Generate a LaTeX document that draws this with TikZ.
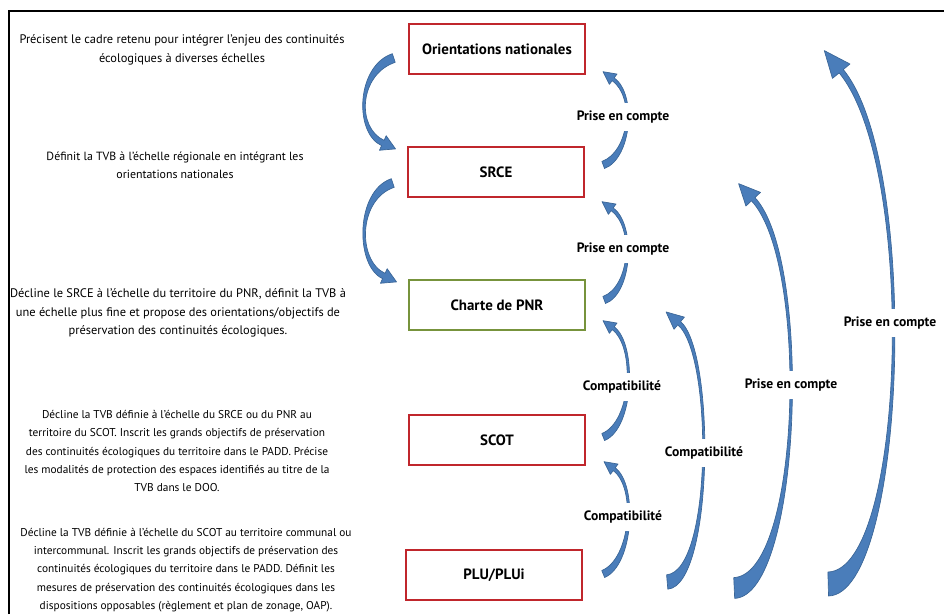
\documentclass[tikz,border=0pt]{standalone}
\usepackage{fontspec}
\setmainfont{PT Sans}
\usetikzlibrary{calc}
\definecolor{boxred}{HTML}{C0262C}
\definecolor{boxgreen}{HTML}{77933C}
\definecolor{arrowfill}{HTML}{4A7DBA}
\definecolor{arrowline}{HTML}{3A6596}

% bent arrow: start, control 1, control 2, neck, tail half width, neck half width, head half width, head length
\newcommand{\bentarrow}[8]{%
	\coordinate (p0) at #1;
	\coordinate (c1) at #2;
	\coordinate (c2) at #3;
	\coordinate (e) at #4;
	\coordinate (pa) at ($(p0)!#5!90:(c1)$);
	\coordinate (pb) at ($(p0)!#5!-90:(c1)$);
	\coordinate (ea) at ($(e)!#6!-90:(c2)$);
	\coordinate (eb) at ($(e)!#6!90:(c2)$);
	\fill[arrowfill, draw=arrowline, line width=0.5pt, line join=round]
	(pa) .. controls ($(c1)+(pa)-(p0)$) and ($(c2)+(ea)-(e)$) .. (ea)
	-- ($(e)!#7!-90:(c2)$) -- ($(e)!#8!180:(c2)$) -- ($(e)!#7!90:(c2)$)
	-- (eb) .. controls ($(c2)+(eb)-(e)$) and ($(c1)+(pb)-(p0)$) .. (pb) -- cycle;
}

\tikzset{
	plan/.style={draw, line width=1.8pt, minimum width=132pt, minimum height=37.5pt,
		font=\bfseries\fontsize{11.2}{13}\selectfont},
	relbl/.style={fill=white, inner xsep=1pt, inner ysep=6pt,
		font=\bfseries\fontsize{10.2}{12}\selectfont},
	descr/.style={align=center, font=\fontsize{8.5}{13.8}\selectfont}
}

\begin{document}
\begin{tikzpicture}[x=0.75pt, y=-0.75pt]
		\useasboundingbox (0,0) rectangle (944,614);
		% frame
		\draw[line width=1.5pt] (9,614) -- (9,11) -- (944,11);

		% levels
		\node[plan, boxred] (orient) at (497,49) {\textcolor{black}{Orientations nationales}};
		\node[plan, boxred] (srce) at (496,172) {\textcolor{black}{SRCE}};
		\node[plan, boxgreen] (charte) at (497,305) {\textcolor{black}{Charte de PNR}};
		\node[plan, boxred] (scot) at (497,440) {\textcolor{black}{SCOT}};
		\node[plan, boxred] (plu) at (494,575) {\textcolor{black}{PLU/PLUi}};

		% descriptions
		\node[descr, font=\fontsize{9.3}{14.2}\selectfont] (desc1) at (182,50) {Précisent le cadre retenu pour intégrer l’enjeu des continuités\\
			écologiques à diverses échelles};
		\node[descr, font=\fontsize{8.9}{13.6}\selectfont] (desc2) at (175,165) {Définit la TVB à l’échelle régionale en intégrant les\\
			orientations nationales};
		\node[descr, font=\fontsize{9.3}{13.9}\selectfont] (desc3) at (178,313) {Décline le SRCE à l’échelle du territoire du PNR, définit la TVB à\\
			une échelle plus fine et propose des orientations/objectifs de\\
			préservation des continuités écologiques.};
		\node[descr] (desc4) at (177,451) {Décline la TVB définie à l’échelle du SRCE ou du PNR au\\
			territoire du SCOT. Inscrit les grands objectifs de préservation\\
			des continuités écologiques du territoire dans le PADD. Précise\\
			les modalités de protection des espaces identifiés au titre de la\\
			TVB dans le DOO.};
		\node[descr] (desc5) at (186,570) {Décline la TVB définie à l’échelle du SCOT au territoire communal ou\\
			intercommunal. Inscrit les grands objectifs de préservation des\\
			continuités écologiques du territoire dans le PADD. Définit les\\
			mesures de préservation des continuités écologiques dans les\\
			dispositions opposables (règlement et plan de zonage, OAP).};

		% left arrows
		\bentarrow{($(orient.west)+(-14,9)$)}{($(orient.west)+(-50,21)$)}{($(srce.west)+(-52,-42)$)}{($(srce.west)+(-24,-29)$)}{3.4pt}{2.2pt}{6pt}{10.5pt}
		\bentarrow{($(srce.west)+(-14,11)$)}{($(srce.west)+(-50,23)$)}{($(charte.west)+(-52,-42)$)}{($(charte.west)+(-24,-29)$)}{3.4pt}{2.2pt}{6pt}{10.5pt}

		% right arrows
		\bentarrow{($(srce.east)+(18,-7)$)}{($(srce.east)+(45,-17)$)}{($(orient.south east)+(50,21)$)}{($(orient.south east)+(27,4)$)}{2.8pt}{1.3pt}{4.8pt}{9.5pt}
		\bentarrow{($(charte.east)+(18,-5)$)}{($(charte.east)+(45,-15)$)}{($(srce.south east)+(50,28)$)}{($(srce.south east)+(27,11)$)}{2.8pt}{1.3pt}{4.8pt}{9.5pt}
		\bentarrow{($(scot.east)+(17,-3)$)}{($(scot.east)+(47,-15)$)}{($(charte.south east)+(50,14)$)}{($(charte.south east)+(27,-3)$)}{2.8pt}{1.3pt}{4.8pt}{9.5pt}
		\bentarrow{($(plu.east)+(20,-1)$)}{($(plu.east)+(49,-13)$)}{($(scot.south east)+(51,20)$)}{($(scot.south east)+(28,3)$)}{2.8pt}{1.3pt}{4.8pt}{9.5pt}

		% long arrows
		\bentarrow{($(plu.east)+(84,7)$)}{($(plu.east)+(130,3)$)}{($(charte.south east)+(128,22)$)}{($(charte.south east)+(93,-8)$)}{5.4pt}{1.6pt}{6pt}{13pt}
		\bentarrow{($(plu.east)+(151,13)$)}{($(plu.east)+(218,10)$)}{($(srce.south east)+(226,63)$)}{($(srce.south east)+(168,1)$)}{7.8pt}{1.8pt}{7.5pt}{16pt}
		\bentarrow{($(plu.east)+(245,9)$)}{($(plu.east)+(323,7)$)}{($(orient.south east)+(333,91)$)}{($(orient.south east)+(255,-4)$)}{9pt}{2pt}{8.5pt}{20pt}

		% relation labels
		\node[relbl] (pec1) at (623,117) {Prise en compte};
		\node[relbl] (pec2) at (623,249) {Prise en compte};
		\node[relbl] (comp1) at (622,387) {Compatibilité};
		\node[relbl] (comp2) at (623,517) {Compatibilité};
		\node[relbl] (comp3) at (704,453) {Compatibilité};
		\node[relbl] (pec3) at (791,385) {Prise en compte};
		\node[relbl] (pec4) at (890,323) {Prise en compte};
\end{tikzpicture}
\end{document}
